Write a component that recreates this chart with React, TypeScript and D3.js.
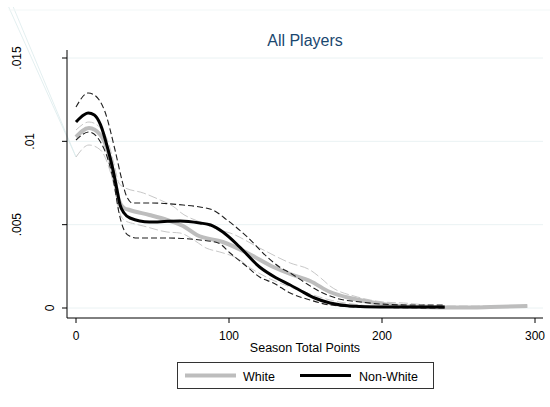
import React, { useEffect, useRef } from 'react';
import * as d3 from 'd3';

// kernel density estimates, [season total points, density]
const whiteEst: [number, number][] = [
  [0, 0.01026], [8.5, 0.0108], [16, 0.01038], [21, 0.00936], [25, 0.00786], [28, 0.00648],
  [31.4, 0.006], [35, 0.00588], [48, 0.00558], [59.5, 0.00528], [70, 0.00492], [79, 0.00438],
  [96, 0.00396], [112, 0.0033], [129, 0.00246], [140, 0.00204], [153, 0.00162], [166, 0.00096],
  [179, 0.0006], [192, 0.00036], [205, 0.00018], [225, 0.00006], [251, 0.00003], [271, 0.00006],
  [295, 0.00012]
];
const whiteHi: [number, number][] = [
  [0, 0.01068], [8.5, 0.01116], [16, 0.0108], [21, 0.00996], [25, 0.00858], [28, 0.0075],
  [31, 0.00726], [44, 0.0069], [55, 0.00648], [65, 0.006], [68, 0.00576], [81, 0.00516],
  [94, 0.00468], [100.7, 0.0045], [120, 0.0036], [140, 0.0027], [153, 0.00228], [160, 0.0018],
  [166, 0.00132], [184, 0.00066], [201, 0.00036], [214, 0.0003], [241, 0.00012], [295, 0.00012]
];
const whiteLo: [number, number][] = [
  [0, 0.00906], [8.5, 0.00978], [16, 0.00948], [21, 0.00858], [25, 0.00726], [28, 0.00588],
  [31.4, 0.00528], [38.6, 0.00504], [44, 0.00492], [59.5, 0.00456], [68, 0.0045], [77, 0.00408],
  [85, 0.0036], [94, 0.00336], [105, 0.003], [114, 0.0024], [127, 0.00174], [140, 0.00126],
  [153, 0.00084], [166, 0.00048], [186, 0.00018], [212, 0.00003], [295, 0.00003]
];
const nonWhiteEst: [number, number][] = [
  [0, 0.01116], [5, 0.01158], [8, 0.0117], [12, 0.01158], [16, 0.011], [21, 0.00948],
  [24.2, 0.00828], [26.8, 0.00708], [28.8, 0.00618], [31.4, 0.0057], [35.3, 0.0054], [48, 0.00516],
  [60, 0.0052], [68, 0.00522], [81, 0.0051], [88, 0.00498], [96, 0.00456], [107, 0.00366],
  [120, 0.00246], [131, 0.0018], [140, 0.00138], [146, 0.00108], [156, 0.0006], [166, 0.0003],
  [179, 0.00012], [199, 0.00006], [241, 0.00006]
];
const nonWhiteHi: [number, number][] = [
  [0, 0.01206], [8, 0.0129], [12, 0.01278], [19, 0.01176], [25.5, 0.00948], [30, 0.00768],
  [32.7, 0.00678], [37, 0.0063], [48, 0.0063], [70, 0.00618], [81, 0.00606], [89.5, 0.00588],
  [98.7, 0.00528], [112, 0.00426], [125, 0.00306], [133, 0.00246], [140, 0.0021], [150, 0.0015],
  [160, 0.00096], [172, 0.00054], [186, 0.00036], [199, 0.00024], [218, 0.00018], [241, 0.00018]
];
const nonWhiteLo: [number, number][] = [
  [0, 0.01008], [8.5, 0.01056], [16, 0.00996], [21, 0.00888], [25, 0.00738], [28, 0.00576],
  [31.4, 0.00468], [35, 0.00432], [40, 0.0042], [59.5, 0.0042], [81, 0.00408], [93, 0.0039],
  [100.7, 0.0033], [112, 0.00246], [120, 0.00186], [129, 0.0015], [140, 0.0009], [153, 0.00048],
  [166, 0.00018], [186, 0.00006], [241, 0]
];
// stray segments left in the exported graph (top left corner)
const strayStarts: [number, number][] = [[-44, 0.01806], [-41, 0.01806]];

const xTicks = [0, 100, 200, 300];
const yTicks = [0, 0.005, 0.01, 0.015];
const yTickLabels = ['0', '.005', '.01', '.015'];
const legendItems = ['White', 'Non-White'];

export default function App() {
  const ref = useRef<SVGSVGElement>(null);

  useEffect(() => {
    const width = 550;
    const height = 407;
    const svg = d3.select(ref.current);
    svg.selectAll('*').remove();
    svg.attr('width', width).attr('height', height).style('display', 'block')
      .style('position', 'absolute').style('left', 0).style('top', 0)
      .style('font-family', '"Liberation Sans", Arial, sans-serif');

    svg.append('rect').attr('width', width).attr('height', height).attr('fill', '#fff');

    const x = d3.scaleLinear().domain([0, 300]).range([76, 535]);
    const y = d3.scaleLinear().domain([0, 0.015]).range([308, 58]);
    const plotLeft = 67, plotRight = 543, plotTop = 50, plotBottom = 318;

    // grid
    svg.append('g').selectAll('line').data(yTicks).enter().append('line')
      .attr('x1', plotLeft).attr('x2', plotRight)
      .attr('y1', d => y(d)).attr('y2', d => y(d))
      .attr('stroke', '#eaf2f3').attr('stroke-width', 1);

    // stray lines
    strayStarts.forEach(s => {
      svg.append('line')
        .attr('x1', x(s[0])).attr('y1', y(s[1]))
        .attr('x2', x(whiteLo[0][0])).attr('y2', y(whiteLo[0][1]))
        .attr('stroke', '#dcebec').attr('stroke-width', 0.8);
    });
    svg.append('line')
      .attr('x1', x(strayStarts[0][0])).attr('x2', width)
      .attr('y1', y(strayStarts[0][1]) + 3).attr('y2', y(strayStarts[0][1]) + 3)
      .attr('stroke', '#f2f7f7').attr('stroke-width', 1);

    const line = d3.line<[number, number]>()
      .x(d => x(d[0])).y(d => y(d[1]))
      .curve(d3.curveMonotoneX);

    const draw = (data: [number, number][], color: string, w: number, dash: string | null) => {
      svg.append('path').datum(data)
        .attr('d', line)
        .attr('fill', 'none')
        .attr('stroke', color)
        .attr('stroke-width', w)
        .attr('stroke-dasharray', dash)
        .attr('stroke-linejoin', 'round');
    };

    draw(whiteHi, '#c8c8c8', 1, '9,3');
    draw(whiteLo, '#c8c8c8', 1, '9,3');
    draw(whiteEst, '#bdbdbd', 4, null);
    draw(nonWhiteHi, '#1e1e1e', 1.1, '6,3');
    draw(nonWhiteLo, '#1e1e1e', 1.1, '6,3');
    draw(nonWhiteEst, '#000', 3, null);

    // axes
    svg.append('line').attr('x1', plotLeft).attr('x2', plotLeft)
      .attr('y1', plotTop).attr('y2', plotBottom).attr('stroke', '#000');
    svg.append('line').attr('x1', plotLeft).attr('x2', plotRight)
      .attr('y1', plotBottom).attr('y2', plotBottom).attr('stroke', '#000');

    svg.append('g').selectAll('line').data(yTicks).enter().append('line')
      .attr('x1', plotLeft - 5).attr('x2', plotLeft)
      .attr('y1', d => y(d)).attr('y2', d => y(d)).attr('stroke', '#000');
    svg.append('g').selectAll('line').data(xTicks).enter().append('line')
      .attr('x1', d => x(d)).attr('x2', d => x(d))
      .attr('y1', plotBottom).attr('y2', plotBottom + 5).attr('stroke', '#000');

    svg.append('g').selectAll('text').data(xTicks).enter().append('text')
      .attr('x', d => x(d)).attr('y', 340)
      .attr('text-anchor', 'middle').attr('font-size', 12).attr('fill', '#000')
      .text(d => String(d));

    // rotated y labels, offset by label width like the original
    const labelWidth = (s: string) => s.split('').reduce((a, c) => a + (c === '.' ? 3.33 : 6.67), 0);
    svg.append('g').selectAll('text').data(yTicks).enter().append('text')
      .attr('transform', (d, i) => {
        const bx = 67.4 - 2 * labelWidth(yTickLabels[i]);
        return 'translate(' + bx + ',' + y(d) + ') rotate(-90)';
      })
      .attr('text-anchor', 'middle').attr('font-size', 12).attr('fill', '#000')
      .text((d, i) => yTickLabels[i]);

    svg.append('text').attr('x', 305).attr('y', 352)
      .attr('text-anchor', 'middle').attr('font-size', 12.5).attr('fill', '#000')
      .text('Season Total Points');

    svg.append('text').attr('x', 305).attr('y', 46)
      .attr('text-anchor', 'middle').attr('font-size', 16).attr('fill', '#1a476f')
      .text('All Players');

    // legend
    const lg = svg.append('g');
    lg.append('rect').attr('x', 177.5).attr('y', 362.5).attr('width', 256).attr('height', 26)
      .attr('fill', '#fff').attr('stroke', '#333').attr('stroke-width', 1);
    const sampleX = [185, 300];
    const textX = [243, 359];
    const sampleColor = ['#bdbdbd', '#000'];
    const sampleW = [4, 3];
    legendItems.forEach((name, i) => {
      lg.append('line').attr('x1', sampleX[i]).attr('x2', sampleX[i] + 51)
        .attr('y1', 375.5).attr('y2', 375.5)
        .attr('stroke', sampleColor[i]).attr('stroke-width', sampleW[i]);
      lg.append('text').attr('x', textX[i]).attr('y', 381)
        .attr('font-size', 12.5).attr('fill', '#000').text(name);
    });
  }, []);

  return <svg ref={ref}></svg>;
}
